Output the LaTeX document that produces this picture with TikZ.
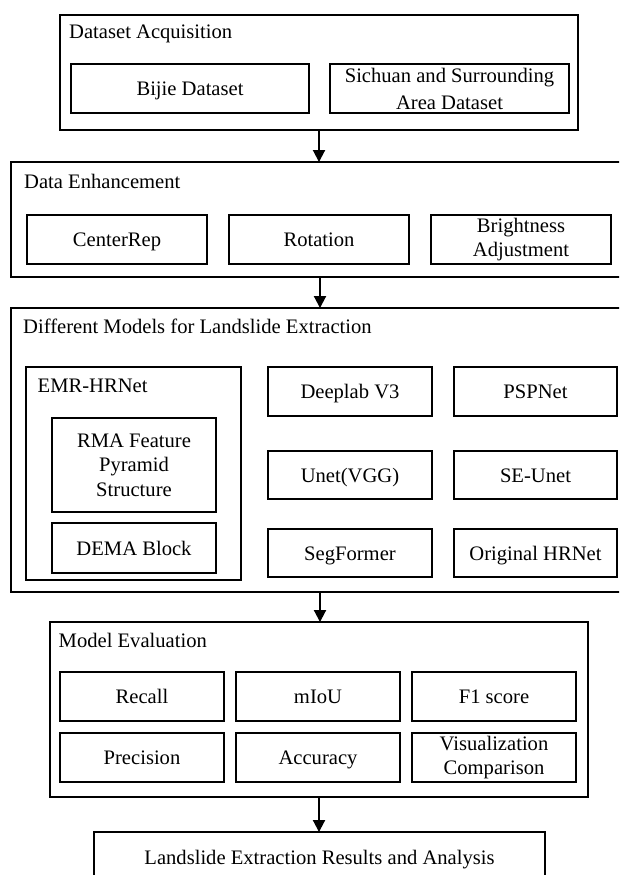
\documentclass[tikz,border=0pt]{standalone}
\usepackage{fontspec}
\setmainfont{Liberation Serif}
\usetikzlibrary{arrows.meta}

\tikzset{
  txt/.style={font=\fontsize{20.6}{24.5}\selectfont},
  group/.style={draw, line width=1.9pt, inner sep=0pt},
  item/.style={draw, line width=1.9pt, inner sep=0pt, align=center, txt},
  single/.style={item, text height=14.5pt, text depth=0.5pt},
  title/.style={anchor=base west, inner sep=0pt, txt},
  flow/.style={line width=1.9pt, -{Triangle[length=12pt,width=12pt]}, shorten >=-1pt},
}

\begin{document}
\begin{tikzpicture}[x=1pt, y=-1pt]
  \useasboundingbox (0,0) rectangle (619,875);
  \clip (0,0) rectangle (619,875);
  \fill[white] (0,0) rectangle (619,875);

  % Stage 1: dataset acquisition
  \node[group, minimum width=518pt, minimum height=115pt] (acq) at (319,72.5) {};
  \node[title] (acqT) at (69,39) {Dataset Acquisition};
  \node[single, minimum width=238pt, minimum height=49pt] (bijie) at (190,88.5) {Bijie Dataset};
  \node[item, minimum width=239pt, minimum height=49pt,
        font=\fontsize{20.6}{27}\selectfont] (sichuan) at (449.5,88.5)
        {Sichuan and Surrounding\\Area Dataset};

  % Stage 2: data enhancement
  \node[group, minimum width=618pt, minimum height=115pt] (enh) at (320,219.5) {};
  \node[title] (enhT) at (24,188) {Data Enhancement};
  \node[single, minimum width=180pt, minimum height=49pt] (center) at (117,239.5) {CenterRep};
  \node[single, minimum width=180pt, minimum height=49pt] (rot) at (319,239.5) {Rotation};
  \node[item, minimum width=180pt, minimum height=49pt] (bright) at (521,239.5) {Brightness\\Adjustment};

  % Stage 3: models
  \node[group, minimum width=618pt, minimum height=284pt] (models) at (320,450) {};
  \node[title] (modelsT) at (23,333) {Different Models for Landslide Extraction};
  \node[group, minimum width=215pt, minimum height=213pt] (emr) at (133.5,473.5) {};
  \node[title] (emrT) at (37.5,392) {EMR-HRNet};
  \node[item, minimum width=164pt, minimum height=94pt] (rma) at (134,465) {RMA Feature\\Pyramid\\Structure};
  \node[single, minimum width=164pt, minimum height=50pt] (dema) at (134,548) {DEMA Block};
  \node[single, minimum width=164pt, minimum height=49pt] (deeplab) at (350,391.5) {Deeplab V3};
  \node[single, minimum width=163pt, minimum height=49pt] (psp) at (535.5,391.5) {PSPNet};
  \node[single, minimum width=164pt, minimum height=48pt] (unet) at (350,475) {Unet(VGG)};
  \node[single, minimum width=163pt, minimum height=48pt] (seunet) at (535.5,475) {SE-Unet};
  \node[single, minimum width=164pt, minimum height=48pt] (segf) at (350,553) {SegFormer};
  \node[single, minimum width=163pt, minimum height=48pt] (orig) at (535.5,553) {Original HRNet};

  % Stage 4: evaluation
  \node[group, minimum width=538pt, minimum height=175pt] (eval) at (319,709.5) {};
  \node[title] (evalT) at (58.5,647) {Model Evaluation};
  \node[single, minimum width=164pt, minimum height=49pt] (recall) at (142,696.5) {Recall};
  \node[single, minimum width=164pt, minimum height=49pt] (miou) at (318,696.5) {mIoU};
  \node[single, minimum width=164pt, minimum height=49pt] (f1) at (494,696.5) {F1 score};
  \node[single, minimum width=164pt, minimum height=49pt] (prec) at (142,757.5) {Precision};
  \node[single, minimum width=164pt, minimum height=49pt] (acc) at (318,757.5) {Accuracy};
  \node[item, minimum width=164pt, minimum height=49pt] (vis) at (494,757.5) {Visualization\\Comparison};

  % Stage 5: results
  \node[single, minimum width=451pt, minimum height=50pt] (final) at (319.5,857) {Landslide Extraction Results and Analysis};

  % Flow between stages
  \draw[flow] (acq.south) -- (acq.south |- enh.north);
  \draw[flow] (enh.south) -- (enh.south |- models.north);
  \draw[flow] (models.south) -- (models.south |- eval.north);
  \draw[flow] (eval.south) -- (eval.south |- final.north);
\end{tikzpicture}
\end{document}
